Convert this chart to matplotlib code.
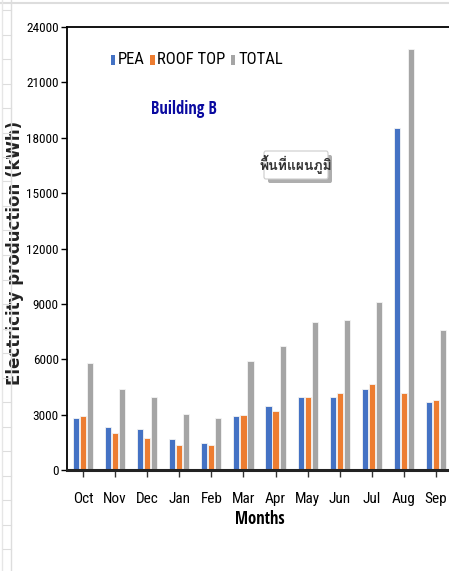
import os
import numpy as np
import matplotlib
matplotlib.use("Agg")
import matplotlib.pyplot as plt
from matplotlib import font_manager
from matplotlib.font_manager import FontProperties
from matplotlib.ft2font import FT2Font
from matplotlib.patches import Patch, FancyBboxPatch
from matplotlib.lines import Line2D

months = ["Oct", "Nov", "Dec", "Jan", "Feb", "Mar", "Apr", "May", "Jun", "Jul", "Aug", "Sep"]
pea = [2800, 2310, 2220, 1660, 1450, 2910, 3480, 3970, 3970, 4370, 18510, 3680]
roof_top = [2910, 2020, 1750, 1340, 1340, 3000, 3200, 3970, 4170, 4660, 4170, 3780]
total = [5810, 4370, 3970, 3020, 2800, 5920, 6700, 8030, 8140, 9100, 22790, 7570]
series_names = ["PEA", "ROOF TOP", "TOTAL"]
colors = ["#4472C4", "#ED7D31", "#A5A5A5"]
y_ticks = list(range(0, 24001, 3000))

files = set(f.fname for f in font_manager.fontManager.ttflist)
for extra in ["/usr/share/fonts", "/usr/local/share/fonts"]:
    if os.path.isdir(extra):
        for root, _, fs in os.walk(extra):
            for fn in fs:
                if fn.lower().endswith((".ttf", ".otf")):
                    files.add(os.path.join(root, fn))
files = sorted(files)

LATIN = "ABCDEFGHIJKLMNOPQRSTUVWXYZabcdefghijklmnopqrstuvwxyz0123456789()"
FAMS = ("liberation", "roboto", "opensans", "open sans", "notosans", "dejavusans", "lato", "inter")


def narrowest(bold):
    # the chart text is very narrow; take the slimmest known sans face
    best, best_w = None, 1e9
    for p in files:
        low = os.path.basename(p).lower().replace("-", "").replace("_", "")
        if not any(k.replace(" ", "") in low for k in FAMS):
            continue
        if any(k in low for k in ("cjk", "mono", "serif", "math", "thai", "italic")):
            continue
        try:
            f = FT2Font(p)
            style = f.style_name.lower()
            cmap = f.get_charmap()
        except Exception:
            continue
        if not all(ord(ch) in cmap for ch in LATIN):
            continue
        if "italic" in style or "oblique" in style:
            continue
        is_bold = "bold" in style and "semi" not in style and "extra" not in style
        if bold != is_bold:
            continue
        if not bold and style not in ("regular", "book", "normal", "condensed", "narrow"):
            continue
        try:
            f.set_size(100, 72)
            f.set_text("24000 Oct")
            w = f.get_width_height()[0]
        except Exception:
            continue
        if w < best_w:
            best, best_w = p, w
    return best


reg_file = narrowest(False)
bold_file = narrowest(True)
fp = FontProperties(fname=reg_file) if reg_file else FontProperties(family="Liberation Sans")
fpb = FontProperties(fname=bold_file) if bold_file else FontProperties(family="Liberation Sans", weight="bold")


def thai_font():
    for p in files:
        try:
            if ord("พ") in FT2Font(p).get_charmap():
                return p
        except Exception:
            pass
    return None


tf = thai_font()

fig = plt.figure(figsize=(4.49, 5.71), dpi=100)
ax = fig.add_axes([67 / 449, 101 / 571, 385 / 449, 443 / 571])

x = np.arange(len(months))
w = 0.19
step = 0.22
for i, (vals, c) in enumerate(zip([pea, roof_top, total], colors)):
    ax.bar(x + (i - 1) * step, vals, w, color=c, edgecolor="#f4f4f4", linewidth=0.6, zorder=2)

ax.set_xlim(-0.5, len(months) - 0.5)
ax.set_ylim(0, 24000)
ax.set_yticks(y_ticks)
ax.set_yticklabels([str(v) for v in y_ticks])
ax.set_xticks(x)
ax.set_xticklabels(months)
for lab in ax.get_xticklabels():
    lab.set_fontproperties(fp)
    lab.set_fontsize(11)
for lab in ax.get_yticklabels():
    lab.set_fontproperties(fp)
    lab.set_fontsize(9.5)
ax.tick_params(axis="x", length=5, width=1, pad=11, color="#333333")
ax.tick_params(axis="y", length=4, width=1, pad=2)
for s in ["left", "top"]:
    ax.spines[s].set_linewidth(1.3)
ax.spines["bottom"].set_linewidth(2.2)
ax.spines["bottom"].set_color("#222222")
ax.spines["right"].set_visible(False)

ax.set_xlabel("Months", fontproperties=fpb, fontsize=12, labelpad=3)
ax.set_ylabel("Electricity production (kWh)", fontsize=12, fontweight="bold",
              family="DejaVu Sans", color="#222222")
ax.yaxis.set_label_coords(-43 / 385, 0.49)

handles = [Patch(facecolor=c, edgecolor="none") for c in colors]
leg = ax.legend(handles, series_names, loc="upper left", bbox_to_anchor=(0.1, 0.955),
                ncol=3, frameon=False, prop=fp, handlelength=0.3, handleheight=0.75,
                handletextpad=0.2, columnspacing=0.4, borderaxespad=0)
for t in leg.get_texts():
    t.set_fontsize(12)

ax.text(0.305, 0.814, "Building B", transform=ax.transAxes, ha="center", va="center",
        fontproperties=fpb, fontsize=12, color="#0A0AA0")

# floating label box with shadow
fig.patches.append(FancyBboxPatch((268 / 449, 388 / 571), 64 / 449, 28 / 571,
                                  boxstyle="round,pad=0,rounding_size=0.004",
                                  transform=fig.transFigure, facecolor="#9a9a9a",
                                  edgecolor="none", alpha=0.8, zorder=5))
fig.patches.append(FancyBboxPatch((264 / 449, 392 / 571), 64 / 449, 28 / 571,
                                  boxstyle="round,pad=0,rounding_size=0.004",
                                  transform=fig.transFigure, facecolor="white",
                                  edgecolor="#cccccc", linewidth=0.8, zorder=6))
thai_kw = {"fontproperties": FontProperties(fname=tf)} if tf else {"family": "DejaVu Sans"}
ttxt = fig.text(296 / 449, 407 / 571, "พื้นที่แผนภูมิ", ha="center", va="center",
                color="#333333", zorder=7, **thai_kw)
ttxt.set_fontsize(10)

# spreadsheet frame remnants at the edge
fig.add_artist(Line2D([0, 1], [1 - 3 / 571] * 2, color="#dddddd", lw=1.5, transform=fig.transFigure))
fig.add_artist(Line2D([11 / 449] * 2, [0, 1], color="#dddddd", lw=1, transform=fig.transFigure))
fig.add_artist(Line2D([2 / 449] * 2, [0, 1], color="#e6e6e6", lw=1, transform=fig.transFigure))
for yy in np.arange(10, 571, 24.5):
    fig.add_artist(Line2D([3 / 449, 11 / 449], [1 - yy / 571] * 2, color="#dddddd", lw=0.8,
                          transform=fig.transFigure))

fig.savefig("out.png", dpi=100)
